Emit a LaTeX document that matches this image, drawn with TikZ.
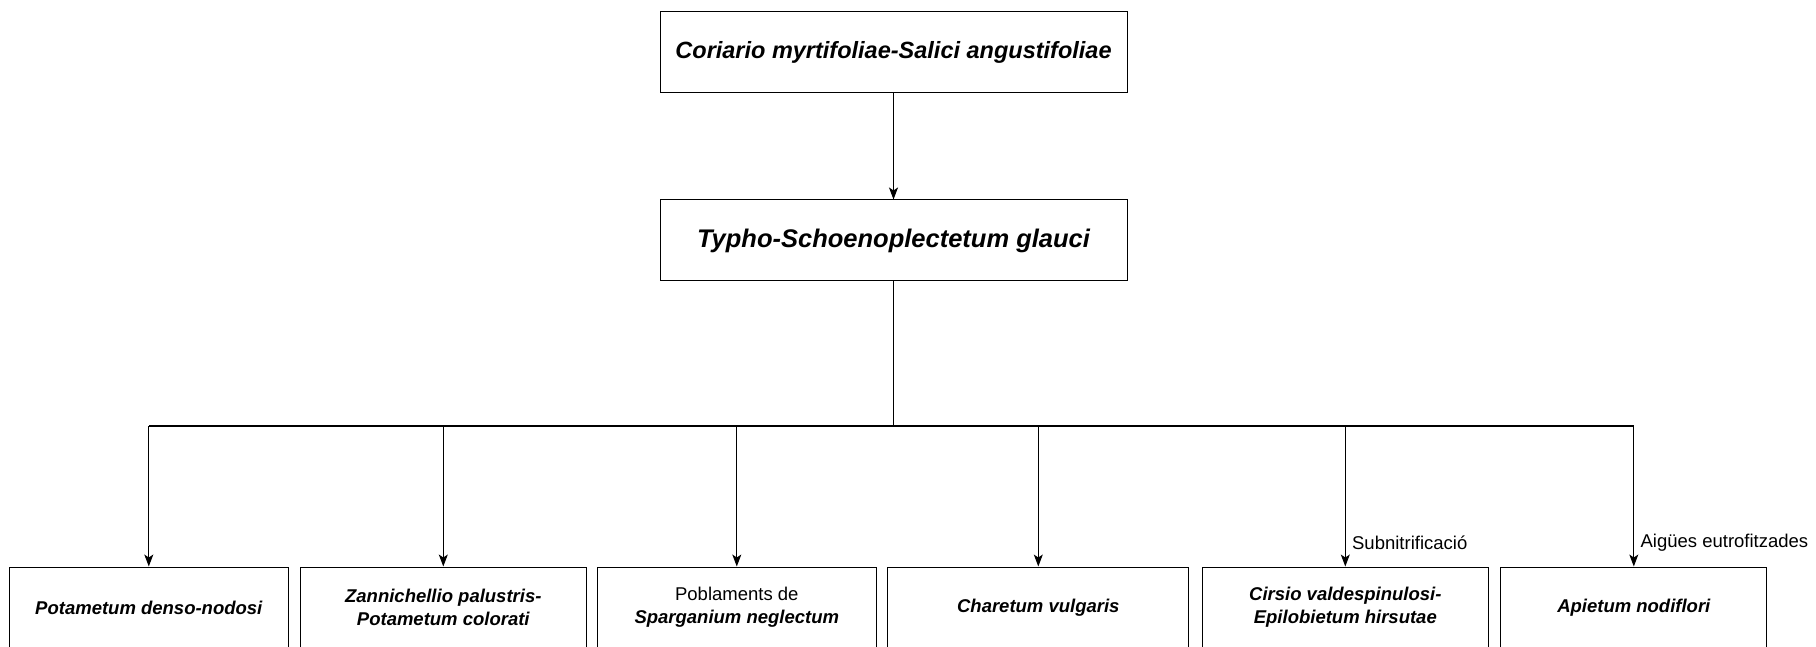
\documentclass[tikz,border=0pt]{standalone}
\usepackage{fontspec}
\setmainfont{Liberation Sans}
\usetikzlibrary{positioning, arrows.meta}

\begin{document}
\begin{tikzpicture}[
    x=1pt, y=1pt,
    box/.style={draw, line width=1pt, align=center, minimum height=81pt,
                inner sep=2pt, font=\fontsize{18.5}{23}\selectfont\bfseries\itshape},
    topbox/.style={box, minimum width=467pt,
                font=\fontsize{23.5}{28}\selectfont\bfseries\itshape},
    arr/.style={-{Stealth[length=12pt, width=9pt, inset=3pt]}, line width=1pt},
    trunk/.style={line width=1.8pt},
    lbl/.style={right=3pt, font=\fontsize{18.5}{22}\selectfont}
  ]
  \useasboundingbox (0,0) rectangle (1816,-647);

  \node[topbox] (coriario) at (893.5,-52) {Coriario myrtifoliae-Salici angustifoliae};
  \node[topbox, below=106.5pt of coriario,
        font=\fontsize{25.5}{30}\selectfont\bfseries\itshape] (typho)
       {Typho-Schoenoplectetum glauci};
  \coordinate[below=144.5pt of typho.south] (bar);

  % associacions del nivell inferior
  \node[box, minimum width=279pt] (potamet) at (148.8,-607.5) {Potametum denso-nodosi};
  \node[box, minimum width=286pt, right=11pt of potamet] (zannich)
       {Zannichellio palustris-\\Potametum colorati};
  \node[box, minimum width=279pt, right=10pt of zannich] (spargan)
       {\normalfont\fontsize{18.5}{23}\selectfont Poblaments de\\Sparganium neglectum};
  \node[box, minimum width=301pt, right=10.5pt of spargan] (charet) {Charetum vulgaris};
  \node[box, minimum width=286pt, right=12.5pt of charet] (cirsio)
       {Cirsio valdespinulosi-\\Epilobietum hirsutae};
  \node[box, minimum width=266pt, right=11.5pt of cirsio] (apiet) {Apietum nodiflori};

  \draw[arr] (coriario) -- (typho);
  \draw[trunk] (typho) -- (bar);
  \draw[trunk] (potamet.north |- bar) -- (apiet.north |- bar);
  \foreach \n in {potamet, zannich, spargan, charet}
    \draw[arr] (bar) -| (\n.north);
  \draw[arr] (bar) -| node[lbl, pos=0.915] {Subnitrificació} (cirsio.north);
  \draw[arr] (bar) -| node[lbl, pos=0.915] {Aigües eutrofitzades} (apiet.north);
\end{tikzpicture}
\end{document}
